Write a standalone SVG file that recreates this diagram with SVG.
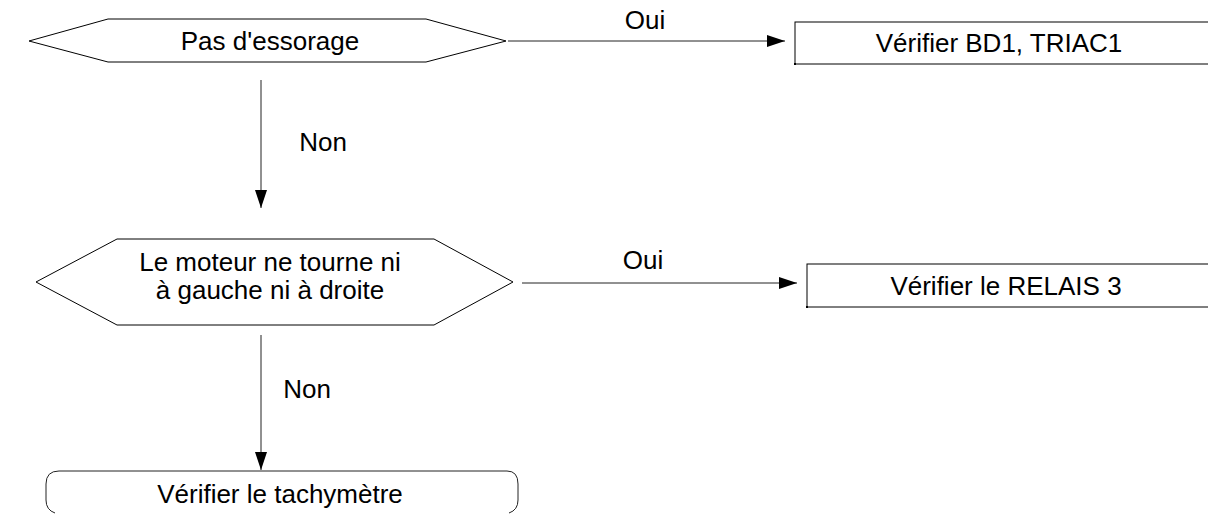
<svg xmlns="http://www.w3.org/2000/svg" width="1208" height="515" viewBox="0 0 1208 515">
<style>
.shape{fill:#fff;stroke:#000;stroke-width:1}
.edge{fill:none;stroke:#222;stroke-width:1}
text{font-family:"Liberation Sans",Arial,sans-serif;font-size:26px;fill:#000;text-anchor:middle}
</style>
<defs>
<marker id="arr" markerUnits="userSpaceOnUse" markerWidth="19" markerHeight="12" refX="18" refY="6" orient="auto">
<path d="M0,0 L18,6 L0,12 z" fill="#000"/>
</marker>
</defs>
<rect width="1208" height="515" fill="#fff"/>
<g id="connectors">
<line class="edge" x1="508" y1="41" x2="785" y2="41" marker-end="url(#arr)"/>
<text x="645" y="29">Oui</text>
<line class="edge" x1="261" y1="80" x2="261" y2="208" marker-end="url(#arr)"/>
<text x="323" y="151">Non</text>
<line class="edge" x1="522" y1="283" x2="797" y2="283" marker-end="url(#arr)"/>
<text x="643" y="269">Oui</text>
<line class="edge" x1="261" y1="335" x2="261" y2="470" marker-end="url(#arr)"/>
<text x="307" y="398">Non</text>
</g>
<g id="n1">
<polygon class="shape" points="29,41 108,19 426,19 506,41 426,62 108,62"/>
<text x="270" y="50">Pas d'essorage</text>
</g>
<g id="n2">
<rect class="shape" x="795" y="22" width="450" height="42"/>
<rect x="794" y="63" width="2" height="2" fill="#000"/>
<text x="999" y="52">Vérifier BD1, TRIAC1</text>
</g>
<g id="n3">
<polygon class="shape" points="36,282 117,239 434,239 513,282 434,325 117,325"/>
<text x="270" y="271">Le moteur ne tourne ni</text>
<text x="270" y="299">à gauche ni à droite</text>
</g>
<g id="n4">
<rect class="shape" x="807" y="264" width="450" height="43"/>
<rect x="806" y="306" width="2" height="2" fill="#000"/>
<text x="1006" y="295">Vérifier le RELAIS 3</text>
</g>
<g id="n5">
<path class="edge" d="M59,471 L507,471"/>
<path class="edge" d="M59,471 Q46,471 46,484 L46,500 Q46,510 55,513"/>
<path class="edge" d="M507,471 Q518,471 518,484 L518,500 Q518,510 509,513"/>
<text x="280" y="503">Vérifier le tachymètre</text>
</g>
</svg>
